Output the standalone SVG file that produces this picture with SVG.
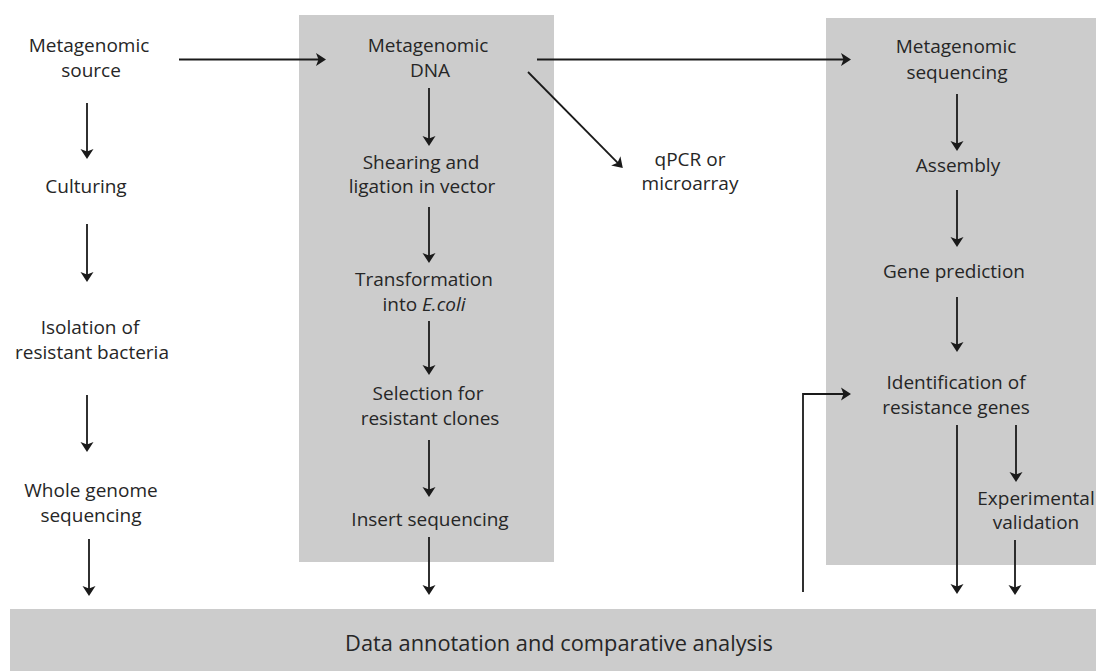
<svg xmlns="http://www.w3.org/2000/svg" width="1096" height="671" viewBox="0 0 1096 671">
<style>
  .t { font-family: "Open Sans", "Noto Sans", sans-serif; font-size: 19px; fill: #262626; text-anchor: middle; }
  .big { font-size: 21.8px; }
  .box { fill: #cccccc; }
  .c line, .c path { stroke: #1a1a1a; stroke-width: 1.8; fill: none; marker-end: url(#ah); }
</style>
<defs>
  <marker id="ah" markerUnits="userSpaceOnUse" viewBox="-12 -8 13 16" markerWidth="13" markerHeight="16" refX="-3" refY="0" orient="auto">
    <path d="M0,0 L-10,-6.5 L-7.5,0 L-10,6.5 Z" fill="#1a1a1a"/>
  </marker>
</defs>
<rect width="1096" height="671" fill="#ffffff"/>
<g id="panel-functional"><rect class="box" x="299" y="15" width="255" height="547"/></g>
<g id="panel-sequencing"><rect class="box" x="826" y="18" width="270" height="547"/></g>
<g id="data-annotation">
  <rect class="box" x="10" y="609" width="1086" height="62"/>
  <text class="t big" x="559" y="651">Data annotation and comparative analysis</text>
</g>
<g id="metagenomic-source"><text class="t" x="89" y="52">Metagenomic</text><text class="t" x="91" y="77">source</text></g>
<g id="culturing"><text class="t" x="86" y="193">Culturing</text></g>
<g id="isolation"><text class="t" x="90" y="334">Isolation of</text><text class="t" x="92" y="359">resistant bacteria</text></g>
<g id="whole-genome"><text class="t" x="91" y="497">Whole genome</text><text class="t" x="91" y="522">sequencing</text></g>
<g id="metagenomic-dna"><text class="t" x="428" y="52">Metagenomic</text><text class="t" x="430" y="77">DNA</text></g>
<g id="shearing"><text class="t" x="421" y="169">Shearing and</text><text class="t" x="422" y="193">ligation in vector</text></g>
<g id="transformation"><text class="t" x="424" y="286">Transformation</text><text class="t" x="424" y="311">into <tspan font-style="italic">E.coli</tspan></text></g>
<g id="selection"><text class="t" x="428" y="400">Selection for</text><text class="t" x="430" y="425">resistant clones</text></g>
<g id="insert-seq"><text class="t" x="430" y="526">Insert sequencing</text></g>
<g id="qpcr"><text class="t" x="690" y="166">qPCR or</text><text class="t" x="690" y="190">microarray</text></g>
<g id="metagenomic-seq"><text class="t" x="956" y="53">Metagenomic</text><text class="t" x="957" y="79">sequencing</text></g>
<g id="assembly"><text class="t" x="958" y="172">Assembly</text></g>
<g id="gene-prediction"><text class="t" x="954" y="278">Gene prediction</text></g>
<g id="identification"><text class="t" x="956" y="389">Identification of</text><text class="t" x="956" y="414">resistance genes</text></g>
<g id="experimental"><text class="t" x="1036" y="505">Experimental</text><text class="t" x="1036" y="529">validation</text></g>
<g id="connectors" class="c">
  <line x1="179" y1="59.5" x2="323" y2="59.5"/>
  <line x1="537" y1="59.5" x2="848" y2="59.5"/>
  <line x1="528" y1="72" x2="620.7" y2="165.9"/>
  <line x1="87" y1="103" x2="87" y2="156"/>
  <line x1="87" y1="224" x2="87" y2="279"/>
  <line x1="87" y1="395" x2="87" y2="449"/>
  <line x1="89" y1="539" x2="89" y2="593"/>
  <line x1="429" y1="88" x2="429" y2="143"/>
  <line x1="429" y1="207" x2="429" y2="260"/>
  <line x1="429" y1="321" x2="429" y2="372"/>
  <line x1="429" y1="440" x2="429" y2="494"/>
  <line x1="429" y1="537" x2="429" y2="592"/>
  <line x1="957" y1="94" x2="957" y2="148"/>
  <line x1="957" y1="190" x2="957" y2="244"/>
  <line x1="957" y1="297" x2="957" y2="349"/>
  <line x1="957" y1="425" x2="957" y2="591"/>
  <line x1="1016" y1="425" x2="1016" y2="479"/>
  <line x1="1015" y1="540" x2="1015" y2="592"/>
  <path d="M803,592 V394 H848"/>
</g>
</svg>
